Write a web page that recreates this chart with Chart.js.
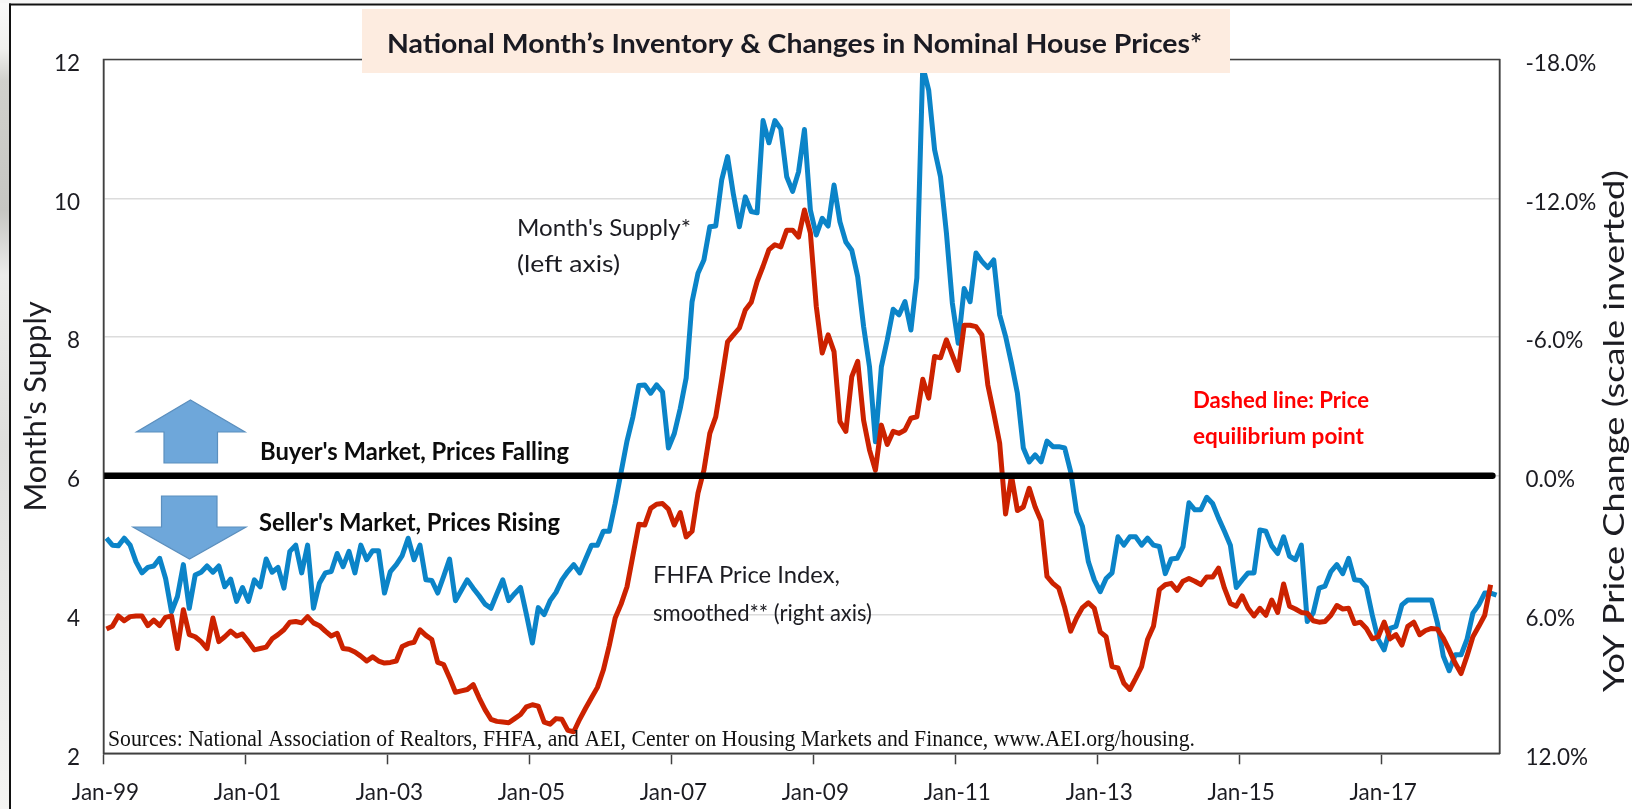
<!DOCTYPE html>
<html>
<head>
<meta charset="utf-8">
<style>html,body{margin:0;padding:0;background:#fff}canvas{display:block}</style>
<script src="https://cdn.jsdelivr.net/npm/chart.js@4/dist/chart.umd.js"></script>
</head>
<body>
<canvas id="c" width="1632" height="809"></canvas>
<script>
// Monthly values, Jan-99 onward
const monthsSupply = [
5.10,5.00,4.99,5.10,5.00,4.76,4.60,4.68,4.70,4.81,
4.52,4.04,4.26,4.72,4.09,4.57,4.61,4.70,4.61,4.70,
4.40,4.51,4.19,4.39,4.19,4.50,4.40,4.80,4.61,4.68,
4.38,4.91,5.00,4.60,5.00,4.09,4.45,4.60,4.62,4.88,
4.69,4.91,4.60,5.00,4.79,4.92,4.92,4.31,4.62,4.72,
4.85,5.10,4.79,5.00,4.50,4.49,4.31,4.55,4.80,4.20,
4.35,4.50,4.38,4.27,4.15,4.09,4.30,4.50,4.20,4.30,
4.39,4.00,3.59,4.10,4.00,4.20,4.32,4.50,4.62,4.72,
4.60,4.80,5.00,5.00,5.20,5.20,5.60,6.05,6.50,6.85,
7.30,7.31,7.19,7.31,7.21,6.40,6.61,6.97,7.41,8.51,
8.92,9.11,9.59,9.60,10.26,10.60,10.05,9.59,10.02,9.81,
9.79,11.12,10.80,11.12,11.00,10.31,10.10,10.38,10.99,9.83,
9.47,9.71,9.60,10.19,9.66,9.37,9.25,8.87,8.15,7.57,
6.49,7.57,7.96,8.40,8.32,8.51,8.10,8.85,11.90,11.56,
10.70,10.31,9.50,8.49,7.91,8.70,8.51,9.21,9.09,9.00,
9.11,8.32,8.01,7.62,7.19,6.40,6.20,6.30,6.20,6.50,
6.42,6.42,6.40,6.06,5.48,5.27,4.76,4.50,4.33,4.52,
4.60,5.12,5.00,5.12,5.12,5.00,5.10,5.00,4.98,4.59,
4.80,4.81,4.98,5.61,5.51,5.51,5.69,5.60,5.39,5.20,
5.00,4.39,4.50,4.60,4.60,5.22,5.20,4.99,4.88,5.12,
4.84,4.79,5.00,3.90,4.02,4.38,4.41,4.62,4.72,4.59,
4.81,4.50,4.49,4.39,3.99,3.64,3.49,3.80,3.83,4.14,
4.21,4.21,4.21,4.21,4.21,3.88,3.40,3.19,3.42,3.42,
3.64,4.02,4.14,4.31,4.31,4.28];

const priceChange = [
6.63,6.51,6.06,6.27,6.09,6.06,6.06,6.48,6.24,6.48,
6.12,6.06,7.47,5.79,6.87,6.96,7.17,7.47,6.15,7.17,
6.96,6.72,6.93,6.84,7.17,7.53,7.47,7.41,7.05,6.87,
6.66,6.33,6.30,6.36,6.09,6.36,6.48,6.72,6.93,6.81,
7.47,7.50,7.62,7.80,8.01,7.83,8.01,8.10,8.07,8.01,
7.38,7.26,7.20,6.66,6.90,7.08,8.07,8.16,8.73,9.36,
9.30,9.24,9.03,9.60,10.11,10.53,10.62,10.65,10.68,10.50,
10.32,9.99,9.90,9.96,10.65,10.74,10.50,10.53,11.01,11.07,
10.53,10.05,9.60,9.15,8.40,7.35,6.15,5.55,4.80,3.45,
2.10,2.13,1.41,1.23,1.20,1.44,2.13,1.59,2.64,2.40,
0.75,-0.24,-1.83,-2.55,-4.14,-5.79,-6.09,-6.39,-7.17,-7.50,
-8.40,-9.06,-9.78,-9.99,-9.90,-10.62,-10.62,-10.32,-11.49,-10.50,
-7.32,-5.31,-6.09,-5.37,-2.34,-1.92,-4.29,-4.95,-2.40,-1.11,
-0.24,-2.19,-1.35,-1.92,-1.83,-1.98,-2.49,-2.55,-4.17,-3.36,
-5.16,-5.10,-5.88,-5.22,-4.56,-6.51,-6.51,-6.45,-6.09,-3.93,
-2.70,-1.41,1.65,0.00,1.50,1.35,0.54,1.35,1.95,4.35,
4.65,4.86,5.70,6.72,6.15,5.70,5.49,5.73,6.75,6.96,
8.25,8.31,8.97,9.24,8.76,8.25,7.08,6.51,4.92,4.71,
4.65,4.95,4.56,4.44,4.56,4.71,4.38,4.38,3.99,4.86,
5.52,5.64,5.19,5.73,6.06,5.73,6.03,5.37,5.91,4.68,
5.64,5.76,5.91,5.94,6.27,6.33,6.30,6.03,5.61,5.76,
5.73,6.39,6.33,6.60,7.05,6.96,6.33,7.05,6.87,7.32,
6.51,6.33,6.87,6.69,6.60,6.63,7.02,7.53,8.10,8.55,
7.80,6.96,6.51,6.03,4.71];

const equilibriumSupply = [6, 6];
const equilibriumSpan = [0, 234.8];
const xTickLabels = ['Jan-99','Jan-01','Jan-03','Jan-05','Jan-07','Jan-09','Jan-11','Jan-13','Jan-15','Jan-17'];
const monthsPerTick = 24;
const monthCount = 236;

const monthPoint = (v, i) => ({x: i + 0.5, y: v});
const BLUE = '#0b84c8', RED = '#cc2200', INK = '#1c1c22', AXIS = '#404040', GRID = '#dcdcdc';
const SANS = 'Lato, "Open Sans", sans-serif';

// Draws text at a fixed font size, squeezed or stretched horizontally to the measured width.
function fitText(ctx, text, x, y, width, size, family, weight, color) {
  ctx.save();
  ctx.font = weight + ' ' + size + 'px ' + family;
  const k = width / ctx.measureText(text).width;
  ctx.translate(x, y);
  ctx.scale(k, 1);
  ctx.fillStyle = color;
  ctx.textAlign = 'left';
  ctx.textBaseline = 'middle';
  ctx.fillText(text, 0, 0);
  ctx.restore();
}
function polygon(ctx, pts) {
  ctx.beginPath();
  pts.forEach((p, i) => i ? ctx.lineTo(p[0], p[1]) : ctx.moveTo(p[0], p[1]));
  ctx.closePath();
  ctx.fillStyle = '#6ea7da';
  ctx.strokeStyle = '#5b8fbe';
  ctx.lineWidth = 1.2;
  ctx.fill();
  ctx.stroke();
}

const backdrop = {
  id: 'backdrop',
  beforeDraw(chart) {
    const ctx = chart.ctx;
    ctx.save();
    const g = ctx.createLinearGradient(0, 0, 0, 809);
    g.addColorStop(0, '#fafafa');
    g.addColorStop(0.06, '#f0f0ee');
    g.addColorStop(0.1, '#d0d0cc');
    g.addColorStop(0.26, '#c6c6c2');
    g.addColorStop(0.34, '#ececea');
    g.addColorStop(0.55, '#dededc');
    g.addColorStop(0.75, '#e8e8e6');
    g.addColorStop(1, '#f4f4f2');
    ctx.fillStyle = g;
    ctx.fillRect(0, 0, 9, 809);
    ctx.fillStyle = '#f6f6f6';
    ctx.fillRect(0, 0, 1632, 3);
    ctx.fillStyle = '#111';
    ctx.fillRect(9, 3.5, 2, 805.5);
    ctx.fillRect(9, 3.5, 1623, 2);
    ctx.restore();
  }
};

const annotations = {
  id: 'annotations',
  afterDatasetsDraw(chart) {
    const ctx = chart.ctx, a = chart.chartArea;
    ctx.save();
    // plot frame
    ctx.strokeStyle = AXIS;
    ctx.lineWidth = 1.5;
    ctx.strokeRect(a.left, a.top, a.right - a.left, a.bottom - a.top);
    // market arrows
    polygon(ctx, [[190.5,400],[245,432],[217.5,432],[217.5,463],[164,463],[164,432],[136.5,432]]);
    polygon(ctx, [[161.5,496],[217,496],[217,527],[246,527],[189.5,559],[133,527],[161.5,527]]);
    // title banner
    ctx.fillStyle = '#fdece0';
    ctx.fillRect(362, 9, 868, 64);
    fitText(ctx, "National Month\u2019s Inventory & Changes in Nominal House Prices*", 387, 45, 815, 26, SANS, 'bold', '#1a1a22');
    // labels
    fitText(ctx, "Month's Supply*", 517, 229, 174, 23, SANS, 'normal', INK);
    fitText(ctx, "(left axis)", 517, 265, 103, 23, SANS, 'normal', INK);
    fitText(ctx, "FHFA Price Index,", 653, 576, 187, 23, SANS, 'normal', INK);
    fitText(ctx, "smoothed** (right axis)", 653, 614, 219, 23, SANS, 'normal', INK);
    fitText(ctx, "Buyer's Market, Prices Falling", 260, 452, 309, 24, SANS, 'bold', '#0c0c0c');
    fitText(ctx, "Seller's Market, Prices Rising", 259, 523, 301, 24, SANS, 'bold', '#0c0c0c');
    fitText(ctx, "Dashed line: Price", 1193, 401, 176, 23, SANS, 'bold', '#ff0000');
    fitText(ctx, "equilibrium point", 1193, 437, 171, 23, SANS, 'bold', '#ff0000');
    fitText(ctx, "Sources: National Association of Realtors, FHFA, and AEI, Center on Housing Markets and Finance, www.AEI.org/housing.", 108, 740, 1087, 22.5, '"Liberation Serif", serif', 'normal', '#111');
    // right axis title
    ctx.save();
    ctx.translate(1615, 431);
    ctx.rotate(-Math.PI / 2);
    fitText(ctx, "YoY Price Change (scale inverted)", -261, 0, 522, 29, SANS, 'normal', INK);
    ctx.restore();
    ctx.restore();
  }
};

new Chart(document.getElementById('c'), {
  type: 'line',
  plugins: [backdrop, annotations],
  data: {
    datasets: [
      {label: 'Equilibrium', data: equilibriumSpan.map((x, i) => ({x, y: equilibriumSupply[i]})),
       yAxisID: 'y', borderColor: '#000', borderWidth: 6.5, pointRadius: 0, borderCapStyle: 'round'},
      {label: 'FHFA Price Index, smoothed', data: priceChange.map(monthPoint),
       yAxisID: 'y2', borderColor: RED, borderWidth: 5, pointRadius: 0, tension: 0, borderJoinStyle: 'round'},
      {label: "Month's Supply", data: monthsSupply.map(monthPoint),
       yAxisID: 'y', borderColor: BLUE, borderWidth: 5, pointRadius: 0, tension: 0, borderJoinStyle: 'round'}
    ]
  },
  options: {
    responsive: false,
    animation: false,
    devicePixelRatio: 1,
    parsing: true,
    layout: {padding: {top: 59.5, left: 0, right: 0, bottom: 0}},
    plugins: {legend: {display: false}, title: {display: false}, tooltip: {enabled: false}},
    scales: {
      x: {
        type: 'linear', min: 0, max: monthCount,
        afterFit(s) { s.height = 55.7; },
        grid: {drawOnChartArea: false, tickLength: 11, tickColor: AXIS, tickWidth: 1.5},
        border: {color: AXIS, width: 1.5},
        afterBuildTicks(s) {
          s.ticks = xTickLabels.map((_, i) => ({value: i * monthsPerTick}));
        },
        ticks: {
          autoSkip: false, maxRotation: 0, minRotation: 0, padding: 15, labelOffset: 2,
          color: INK, font: {family: SANS, size: 22.5},
          callback: (v) => xTickLabels[v / monthsPerTick]
        }
      },
      y: {
        type: 'linear', position: 'left', min: 2, max: 12,
        afterFit(s) { s.width = 103.5; },
        grid: {color: GRID, lineWidth: 1.5, drawTicks: false},
        border: {color: AXIS, width: 1.5},
        title: {display: true, text: "Month's Supply", color: INK, font: {family: SANS, size: 31}, padding: {top: 17, bottom: 0}},
        ticks: {stepSize: 2, padding: 23.5, labelOffset: 4, color: INK, font: {family: SANS, size: 22.5}}
      },
      y2: {
        type: 'linear', position: 'right', min: -18, max: 12, reverse: true,
        afterFit(s) { s.width = 132.5; },
        grid: {drawOnChartArea: false, drawTicks: false},
        border: {color: AXIS, width: 1.5},
        ticks: {stepSize: 6, padding: 26, labelOffset: 4, color: INK, font: {family: SANS, size: 22.5},
          callback: (v) => v.toFixed(1) + '%'}
      }
    }
  }
});
</script>
</body>
</html>
